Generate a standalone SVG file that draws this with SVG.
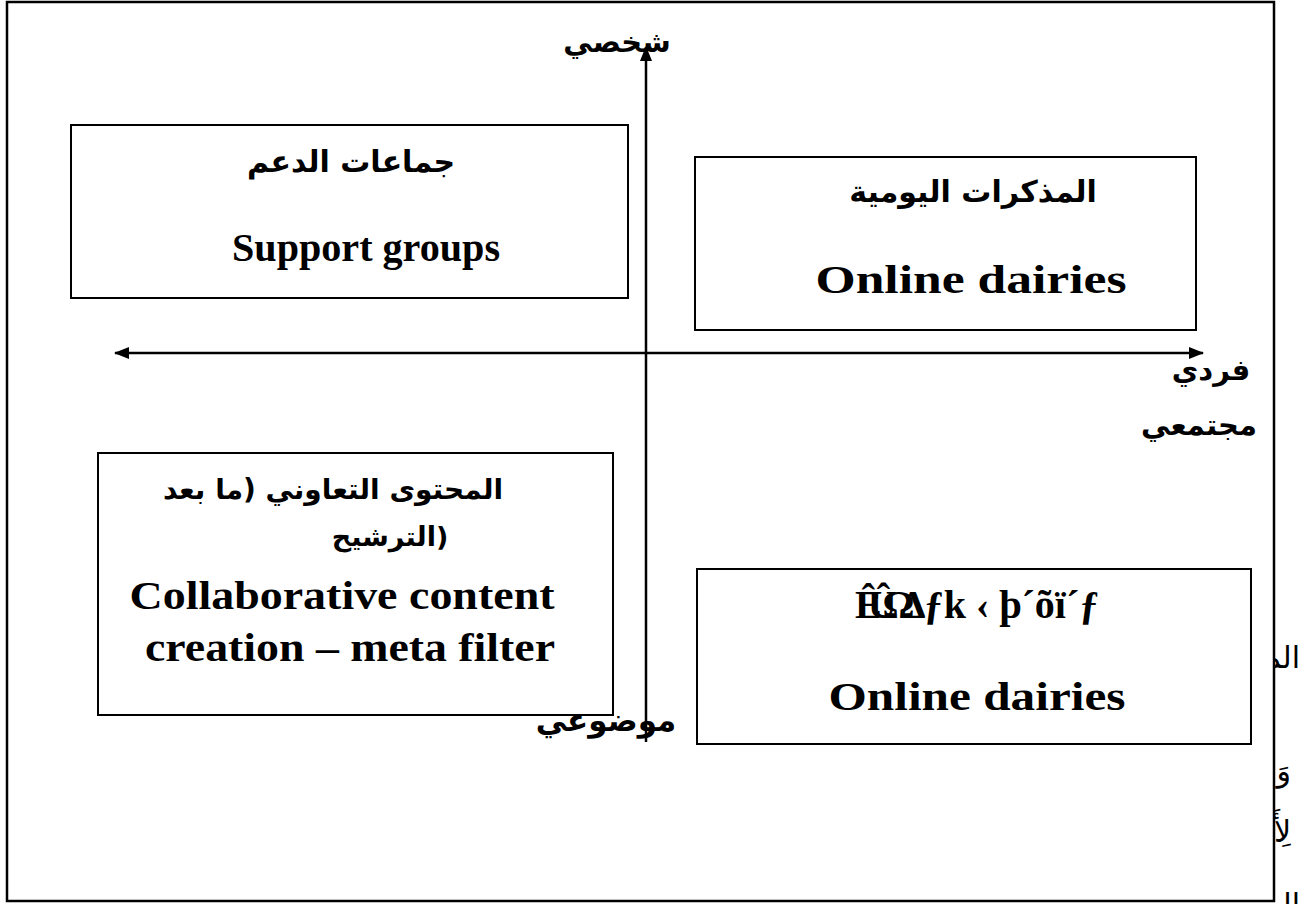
<svg xmlns="http://www.w3.org/2000/svg" width="1303" height="904" viewBox="0 0 1303 904">
<style>
.box{fill:#fff;stroke:#000;stroke-width:2}
.ar{font-family:"DejaVu Sans","Noto Sans",sans-serif;font-weight:bold;font-size:30px;fill:#000}
.lbl{font-family:"DejaVu Sans","Noto Sans",sans-serif;font-weight:bold;font-size:29px;fill:#000}
.en{font-family:"Liberation Serif",serif;font-weight:bold;font-size:40px;fill:#000}
.frag{font-family:"DejaVu Sans","Noto Sans",sans-serif;font-size:30px;fill:#000}
.axis{stroke:#000;stroke-width:2.5;fill:none}
</style>
<defs>
<marker id="ah" viewBox="0 0 15 12" refX="14" refY="6" markerWidth="15" markerHeight="12" orient="auto-start-reverse" markerUnits="userSpaceOnUse">
<path d="M0,0 L15,6 L0,12 z" fill="#000"/>
</marker>
</defs>
<rect width="1303" height="904" fill="#fff"/>
<g id="page-fragments">
<text class="frag" x="1300" y="668" text-anchor="end">الم</text>
<text class="frag" x="1291" y="781" text-anchor="end">وَ</text>
<text class="frag" x="1291" y="842" text-anchor="end">لِأَ</text>
<text class="frag" x="1300" y="915" text-anchor="end">ال</text>
</g>
<g id="frame"><rect x="7" y="2" width="1267" height="899" fill="#fff" stroke="#000" stroke-width="2.5"/></g>
<g id="connectors">
<line class="axis" x1="646" y1="742" x2="646" y2="47" marker-end="url(#ah)"/>
<line class="axis" x1="115" y1="353" x2="1203" y2="353" marker-start="url(#ah)" marker-end="url(#ah)"/>
</g>
<g id="support-groups">
<rect class="box" x="71" y="125" width="557" height="173"/>
<text class="ar" x="351" y="172" text-anchor="middle">جماعات الدعم</text>
<text class="en" x="366" y="261" text-anchor="middle" textLength="268" lengthAdjust="spacingAndGlyphs">Support groups</text>
</g>
<g id="online-diaries-top">
<rect class="box" x="695" y="157" width="501" height="173"/>
<text class="ar" x="973" y="202" text-anchor="middle">المذكرات اليومية</text>
<text class="en" x="971" y="293" text-anchor="middle" textLength="311" lengthAdjust="spacingAndGlyphs">Online dairies</text>
</g>
<g id="collaborative">
<rect class="box" x="98" y="453" width="515" height="262"/>
<text class="ar" x="333" y="499" text-anchor="middle" style="font-size:28px">المحتوى التعاوني (ما بعد</text>
<text class="ar" x="390" y="546" text-anchor="middle" style="font-size:27px">الترشيح)</text>
<text class="en" x="342" y="609" text-anchor="middle" textLength="425" lengthAdjust="spacingAndGlyphs">Collaborative content</text>
<text class="en" x="350" y="661" text-anchor="middle" textLength="410" lengthAdjust="spacingAndGlyphs">creation – meta filter</text>
</g>
<g id="online-diaries-bottom">
<rect class="box" x="697" y="569" width="554" height="175"/>
<text class="en" x="855" y="618"><tspan letter-spacing="-14">ÊÛΩΔ</tspan><tspan dx="12">ƒk ‹ þ´õï´ƒ</tspan></text>
<text class="en" x="977" y="710" text-anchor="middle" textLength="297" lengthAdjust="spacingAndGlyphs">Online dairies</text>
</g>
<g id="axis-labels">
<text class="lbl" x="617" y="52" text-anchor="middle">شخصي</text>
<text class="lbl" x="1211" y="380" text-anchor="middle">فردي</text>
<text class="lbl" x="1199" y="435" text-anchor="middle">مجتمعي</text>
<text class="lbl" x="606" y="731" text-anchor="middle" style="font-size:31px">موضوعي</text>
</g>
</svg>
